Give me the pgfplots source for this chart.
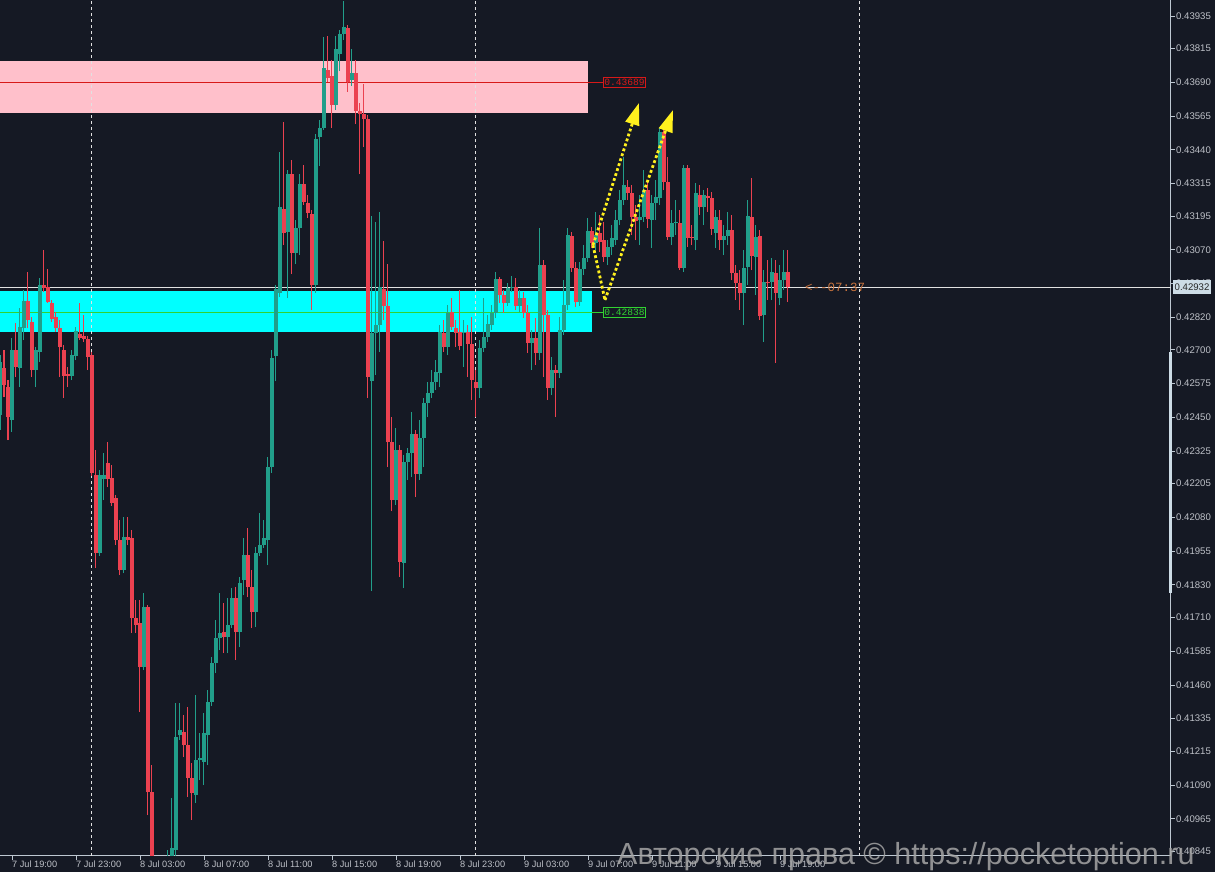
\documentclass[border=0pt]{standalone}
\usepackage{pgfplots}
\pgfplotsset{compat=1.18}
\usepackage{pgfplotstable}
\usepackage{fontspec}
\setmainfont{Liberation Sans}
\newfontfamily\lmono{Liberation Mono}
\usetikzlibrary{arrows.meta}
\definecolor{bg}{RGB}{21,25,36}
\definecolor{upc}{RGB}{33,158,138}
\definecolor{dnc}{RGB}{235,65,80}
\definecolor{axc}{RGB}{190,200,210}
\definecolor{tkc}{RGB}{190,193,200}
\definecolor{pinkz}{RGB}{255,192,203}
\definecolor{cyanz}{RGB}{0,255,255}
\definecolor{lred}{RGB}{215,25,25}
\definecolor{lgreen}{RGB}{50,210,50}
\definecolor{yel}{RGB}{255,240,30}
\definecolor{orng}{RGB}{200,115,62}
\definecolor{pbox}{RGB}{205,220,230}
\definecolor{whl}{RGB}{225,225,225}

\pgfplotstableread{
m o h l c
0 0.42458 0.42680 0.42403 0.42655
3 0.42440 0.42743 0.42396 0.42699
5 0.42632 0.42854 0.42562 0.42784
6 0.42780 0.42921 0.42736 0.42880
9 0.42625 0.42710 0.42562 0.42699
10 0.42692 0.42965 0.42655 0.42939
18 0.42603 0.42699 0.42588 0.42680
19 0.42677 0.42784 0.42662 0.42769
25 0.41948 0.42255 0.41937 0.42236
26 0.42222 0.42318 0.42144 0.42236
31 0.41885 0.42081 0.41874 0.42007
36 0.41526 0.41800 0.41515 0.41748
41 0.40682 0.40775 0.40664 0.40745
42 0.40745 0.40849 0.40719 0.40819
43 0.40819 0.41041 0.40805 0.40856
44 0.40849 0.41393 0.40812 0.41267
45 0.41274 0.41393 0.41256 0.41293
49 0.41052 0.41422 0.41023 0.41182
50 0.41182 0.41282 0.41108 0.41189
51 0.41175 0.41356 0.41089 0.41282
52 0.41274 0.41441 0.41163 0.41397
53 0.41397 0.41563 0.41382 0.41541
54 0.41541 0.41700 0.41504 0.41633
55 0.41633 0.41800 0.41589 0.41652
57 0.41637 0.41781 0.41578 0.41681
58 0.41681 0.41818 0.41670 0.41781
60 0.41656 0.41859 0.41600 0.41837
61 0.41848 0.42003 0.41792 0.41940
64 0.41730 0.41970 0.41674 0.41948
65 0.41948 0.42096 0.41937 0.41977
66 0.41977 0.42070 0.41966 0.42003
67 0.41996 0.42303 0.41903 0.42266
68 0.42266 0.42699 0.42244 0.42669
69 0.42677 0.42939 0.42584 0.42925
70 0.42910 0.43432 0.42895 0.43228
72 0.43136 0.43365 0.42891 0.43350
74 0.43058 0.43180 0.43017 0.43150
75 0.43150 0.43350 0.43050 0.43313
79 0.42939 0.43498 0.42910 0.43480
80 0.43487 0.43550 0.43380 0.43520
81 0.43520 0.43857 0.43513 0.43742
84 0.43605 0.43861 0.43587 0.43813
85 0.43794 0.43883 0.43731 0.43868
86 0.43868 0.43990 0.43846 0.43894
88 0.43698 0.43813 0.43676 0.43724
93 0.42584 0.43195 0.41807 0.42762
94 0.42762 0.43173 0.42606 0.42791
95 0.42791 0.43210 0.42692 0.42932
99 0.42144 0.42410 0.42125 0.42329
101 0.41911 0.42310 0.41818 0.42285
102 0.42285 0.42336 0.42218 0.42318
103 0.42318 0.42470 0.42229 0.42388
105 0.42240 0.42440 0.42218 0.42373
106 0.42373 0.42521 0.42266 0.42503
107 0.42503 0.42581 0.42451 0.42540
108 0.42540 0.42625 0.42521 0.42581
109 0.42581 0.42662 0.42551 0.42618
110 0.42614 0.42791 0.42562 0.42766
112 0.42710 0.42865 0.42680 0.42836
116 0.42762 0.42810 0.42636 0.42766
120 0.42558 0.42736 0.42521 0.42706
121 0.42706 0.42891 0.42692 0.42747
122 0.42747 0.42828 0.42729 0.42795
123 0.42791 0.42865 0.42773 0.42836
124 0.42836 0.42988 0.42817 0.42962
127 0.42873 0.42947 0.42862 0.42928
128 0.42928 0.42973 0.42914 0.42932
130 0.42862 0.42921 0.42840 0.42891
133 0.42725 0.42773 0.42625 0.42743
135 0.42688 0.43150 0.42662 0.43013
138 0.42558 0.42673 0.42532 0.42625
140 0.42614 0.42821 0.42595 0.42773
141 0.42773 0.42958 0.42754 0.42865
142 0.42865 0.43150 0.42847 0.43124
145 0.42877 0.43025 0.42862 0.42999
146 0.42999 0.43087 0.42976 0.43039
147 0.43039 0.43187 0.43025 0.43139
149 0.43095 0.43210 0.43069 0.43124
152 0.43043 0.43106 0.43013 0.43080
153 0.43080 0.43161 0.43050 0.43113
154 0.43106 0.43217 0.43087 0.43180
155 0.43180 0.43291 0.43161 0.43254
156 0.43254 0.43413 0.43235 0.43309
160 0.43180 0.43272 0.43087 0.43191
161 0.43191 0.43365 0.43173 0.43291
163 0.43180 0.43272 0.43076 0.43243
164 0.43243 0.43328 0.43180 0.43265
165 0.43261 0.43520 0.43235 0.43506
168 0.43117 0.43217 0.43087 0.43169
169 0.43169 0.43254 0.43124 0.43173
171 0.43002 0.43383 0.42988 0.43372
174 0.43106 0.43317 0.43069 0.43280
176 0.43228 0.43291 0.43161 0.43272
179 0.43132 0.43217 0.43076 0.43191
181 0.43106 0.43161 0.43050 0.43121
182 0.43121 0.43210 0.43087 0.43143
186 0.42910 0.43069 0.42791 0.43002
187 0.43006 0.43254 0.42939 0.43195
189 0.43043 0.43161 0.42902 0.43117
191 0.42828 0.42995 0.42729 0.42951
193 0.42951 0.43039 0.42884 0.42988
195 0.42891 0.43013 0.42865 0.42958
196 0.42958 0.43069 0.42921 0.42988
}\upt

\pgfplotstableread{
m o h l c
1 0.42632 0.42699 0.42525 0.42569
2 0.42562 0.42588 0.42366 0.42451
4 0.42699 0.42799 0.42599 0.42636
7 0.42880 0.42988 0.42780 0.42810
8 0.42803 0.42821 0.42599 0.42625
11 0.42939 0.43069 0.42914 0.42928
12 0.42932 0.42999 0.42873 0.42877
13 0.42873 0.42884 0.42803 0.42814
14 0.42821 0.42840 0.42766 0.42780
15 0.42780 0.42810 0.42599 0.42710
16 0.42699 0.42717 0.42521 0.42603
17 0.42610 0.42636 0.42562 0.42603
20 0.42758 0.42873 0.42736 0.42743
21 0.42751 0.42828 0.42729 0.42740
22 0.42740 0.42751 0.42625 0.42673
23 0.42680 0.42692 0.42233 0.42244
24 0.42236 0.42329 0.41892 0.41948
27 0.42281 0.42359 0.42192 0.42222
28 0.42225 0.42273 0.42122 0.42133
29 0.42151 0.42162 0.41977 0.41996
30 0.41996 0.42070 0.41866 0.41885
32 0.42007 0.42081 0.41977 0.41996
33 0.42003 0.42033 0.41652 0.41707
34 0.41707 0.41774 0.41652 0.41681
35 0.41689 0.41774 0.41360 0.41526
37 0.41748 0.41755 0.40978 0.41064
38 0.41064 0.41163 0.40775 0.40793
39 0.40793 0.40812 0.40701 0.40719
40 0.40719 0.40738 0.40645 0.40682
46 0.41286 0.41348 0.41193 0.41237
47 0.41237 0.41378 0.41045 0.41115
48 0.41115 0.41171 0.40960 0.41060
56 0.41656 0.41763 0.41578 0.41637
59 0.41781 0.41822 0.41552 0.41656
62 0.41940 0.42040 0.41785 0.41822
63 0.41822 0.41885 0.41670 0.41730
71 0.43221 0.43543 0.43087 0.43132
73 0.43350 0.43402 0.42980 0.43058
76 0.43313 0.43383 0.43235 0.43247
77 0.43243 0.43272 0.43187 0.43206
78 0.43202 0.43217 0.42847 0.42939
82 0.43735 0.43861 0.43691 0.43705
83 0.43713 0.43772 0.43520 0.43605
87 0.43890 0.43901 0.43654 0.43691
89 0.43724 0.43772 0.43535 0.43583
90 0.43583 0.43613 0.43350 0.43572
91 0.43572 0.43683 0.43450 0.43554
92 0.43554 0.43568 0.42521 0.42599
96 0.42925 0.43102 0.42810 0.42862
97 0.42862 0.43017 0.42266 0.42359
98 0.42359 0.42451 0.42103 0.42144
100 0.42329 0.42347 0.41859 0.41915
104 0.42388 0.42403 0.42155 0.42240
111 0.42762 0.42810 0.42692 0.42710
113 0.42840 0.42891 0.42773 0.42784
114 0.42780 0.42810 0.42710 0.42762
115 0.42766 0.42921 0.42699 0.42714
117 0.42766 0.42791 0.42599 0.42721
118 0.42721 0.42821 0.42514 0.42588
119 0.42581 0.42625 0.42451 0.42558
125 0.42962 0.42969 0.42873 0.42902
126 0.42902 0.42921 0.42836 0.42873
129 0.42932 0.42965 0.42847 0.42862
131 0.42891 0.42914 0.42817 0.42836
132 0.42836 0.42865 0.42688 0.42725
134 0.42743 0.42817 0.42643 0.42688
136 0.43013 0.43032 0.42599 0.42828
137 0.42828 0.42847 0.42514 0.42558
139 0.42625 0.42643 0.42451 0.42614
143 0.43121 0.43136 0.42988 0.43002
144 0.43002 0.43025 0.42858 0.42877
148 0.43139 0.43154 0.43076 0.43095
150 0.43132 0.43198 0.43062 0.43099
151 0.43106 0.43173 0.43025 0.43043
157 0.43302 0.43328 0.43254 0.43280
158 0.43280 0.43309 0.43124 0.43191
159 0.43191 0.43235 0.43106 0.43176
162 0.43291 0.43321 0.43150 0.43184
166 0.43506 0.43513 0.43291 0.43321
167 0.43321 0.43413 0.43106 0.43117
170 0.43169 0.43217 0.42995 0.43002
172 0.43372 0.43383 0.43080 0.43113
173 0.43117 0.43161 0.43087 0.43113
175 0.43272 0.43309 0.43198 0.43228
177 0.43269 0.43298 0.43210 0.43261
178 0.43261 0.43284 0.43124 0.43147
180 0.43180 0.43217 0.43069 0.43106
183 0.43143 0.43198 0.42958 0.42984
184 0.42984 0.43013 0.42884 0.42947
185 0.42947 0.42995 0.42847 0.42910
188 0.43191 0.43335 0.42995 0.43047
190 0.43121 0.43143 0.42810 0.42825
192 0.42951 0.43032 0.42884 0.42947
194 0.42984 0.43032 0.42651 0.42910
197 0.42988 0.43069 0.42877 0.42932
}\dnt

\begin{document}
\begin{tikzpicture}
\fill[bg] (0,0) rectangle (1215pt,872pt);
\useasboundingbox (0,0) rectangle (1215pt,872pt);
\begin{axis}[
  at={(0pt,16pt)}, anchor=south west,
  scale only axis, width=1171pt, height=856pt,
  xmin=0, xmax=292.75, ymin=0.40827, ymax=0.43994,
  clip mode=individual,
  axis x line*=bottom, axis y line*=right,
  axis line style={draw=axc, line width=1pt, -},
  tick align=outside, major tick length=4pt,
  tick style={draw=axc, line width=0.8pt},
  scaled ticks=false,
  xtick={3,19,35,51,67,83,99,115,131,147,163,179,195},
  xticklabels={7 Jul 19:00,7 Jul 23:00,8 Jul 03:00,8 Jul 07:00,8 Jul 11:00,8 Jul 15:00,8 Jul 19:00,8 Jul 23:00,9 Jul 03:00,9 Jul 07:00,9 Jul 11:00,9 Jul 15:00,9 Jul 19:00},
  xticklabel style={anchor=north west, xshift=-1pt, font=\fontsize{9.2}{10}\selectfont, text=tkc, inner sep=1pt},
  ytick={0.40845,0.40965,0.41090,0.41215,0.41335,0.41460,0.41585,0.41710,0.41830,0.41955,0.42080,0.42205,0.42325,0.42450,0.42575,0.42700,0.42820,0.42945,0.43070,0.43195,0.43315,0.43440,0.43565,0.43690,0.43815,0.43935},
  yticklabels={0.40845,0.40965,0.41090,0.41215,0.41335,0.41460,0.41585,0.41710,0.41830,0.41955,0.42080,0.42205,0.42325,0.42450,0.42575,0.42700,0.42820,0.42945,0.43070,0.43195,0.43315,0.43440,0.43565,0.43690,0.43815,0.43935},
  yticklabel style={anchor=west, font=\fontsize{9.6}{10}\selectfont, text=tkc, inner sep=1pt},
]
% zones
\fill[pinkz] (axis cs:0,0.43576) rectangle (axis cs:147,0.43768);
\fill[cyanz] (axis cs:0,0.42766) rectangle (axis cs:148,0.42917);
% day separators
\draw[whl, line width=1pt, dash pattern=on 3pt off 3pt] (axis cs:23,0.40827) -- (axis cs:23,0.43994);
\draw[whl, line width=1pt, dash pattern=on 3pt off 3pt] (axis cs:119,0.40827) -- (axis cs:119,0.43994);
\draw[whl, line width=1pt, dash pattern=on 3pt off 3pt] (axis cs:215,0.40827) -- (axis cs:215,0.43994);
% level lines
\draw[lred, line width=1pt] (axis cs:0,0.43689) -- (axis cs:150.75,0.43689);
\draw[lgreen, line width=1pt] (axis cs:0,0.42838) -- (axis cs:150.75,0.42838);
\draw[whl, line width=1pt] (axis cs:0,0.42932) -- (axis cs:292.75,0.42932);
% candles: wicks
\addplot[draw=none, mark=none, forget plot, error bars/.cd, y dir=plus, y explicit, error mark=none, error bar style={draw=upc, line width=1pt, solid}] table[x=m, y=l, y error expr=\thisrow{h}-\thisrow{l}] {\upt};
\addplot[draw=none, mark=none, forget plot, error bars/.cd, y dir=plus, y explicit, error mark=none, error bar style={draw=dnc, line width=1pt, solid}] table[x=m, y=l, y error expr=\thisrow{h}-\thisrow{l}] {\dnt};
% candles: bodies
\addplot[draw=none, mark=none, forget plot, error bars/.cd, y dir=plus, y explicit, error mark=none, error bar style={draw=upc, line width=3.2pt, solid}] table[x=m, y=o, y error expr=\thisrow{c}-\thisrow{o}] {\upt};
\addplot[draw=none, mark=none, forget plot, error bars/.cd, y dir=plus, y explicit, error mark=none, error bar style={draw=dnc, line width=3.2pt, solid}] table[x=m, y=c, y error expr=\thisrow{o}-\thisrow{c}] {\dnt};
% arrows
\draw[yel, line width=2.8pt, dash pattern=on 2.8pt off 2.4pt] (axis cs:148.25,0.43087) -- (axis cs:151.25,0.42884);
\draw[yel, line width=2.8pt, dash pattern=on 2.8pt off 2.4pt, -{Triangle[length=22pt,width=14pt]}] (axis cs:148.25,0.43087) -- (axis cs:159.75,0.43613);
\draw[yel, line width=2.8pt, dash pattern=on 2.8pt off 2.4pt, -{Triangle[length=22pt,width=14pt]}] (axis cs:151.25,0.42884) -- (axis cs:168.25,0.43587);
% labels
\node[draw=lred, text=lred, line width=0.8pt, font=\lmono\fontsize{9.6}{9.6}\selectfont, inner xsep=1pt, inner ysep=1.8pt, anchor=west] at (axis cs:150.75,0.43689) {0.43689};
\node[draw=lgreen, text=lgreen, line width=0.8pt, font=\lmono\fontsize{9.6}{9.6}\selectfont, inner xsep=1pt, inner ysep=1.8pt, anchor=west] at (axis cs:150.75,0.42838) {0.42838};
\node[text=orng, font=\lmono\fontsize{12.5}{12.5}\selectfont, anchor=west, inner sep=0pt] at (axis cs:201.25,0.42932) {<-{}-07:37};
% axis highlight
\draw[pbox, line width=3pt] (axis cs:292.75,0.42692) -- (axis cs:292.75,0.41800);
\coordinate (cp) at (axis cs:292.75,0.42932);
\end{axis}
\node[fill=pbox, text=black!85, font=\fontsize{9.6}{10}\selectfont, anchor=west, inner xsep=2pt, minimum height=12pt, xshift=1.5pt] at (cp) {0.42932};
\node[anchor=base west, inner sep=0pt, text=gray!70, opacity=0.85, font=\fontsize{30.5}{30.5}\selectfont] at (617pt,7pt) {Авторские права © https://pocketoption.ru};
\end{tikzpicture}
\end{document}
